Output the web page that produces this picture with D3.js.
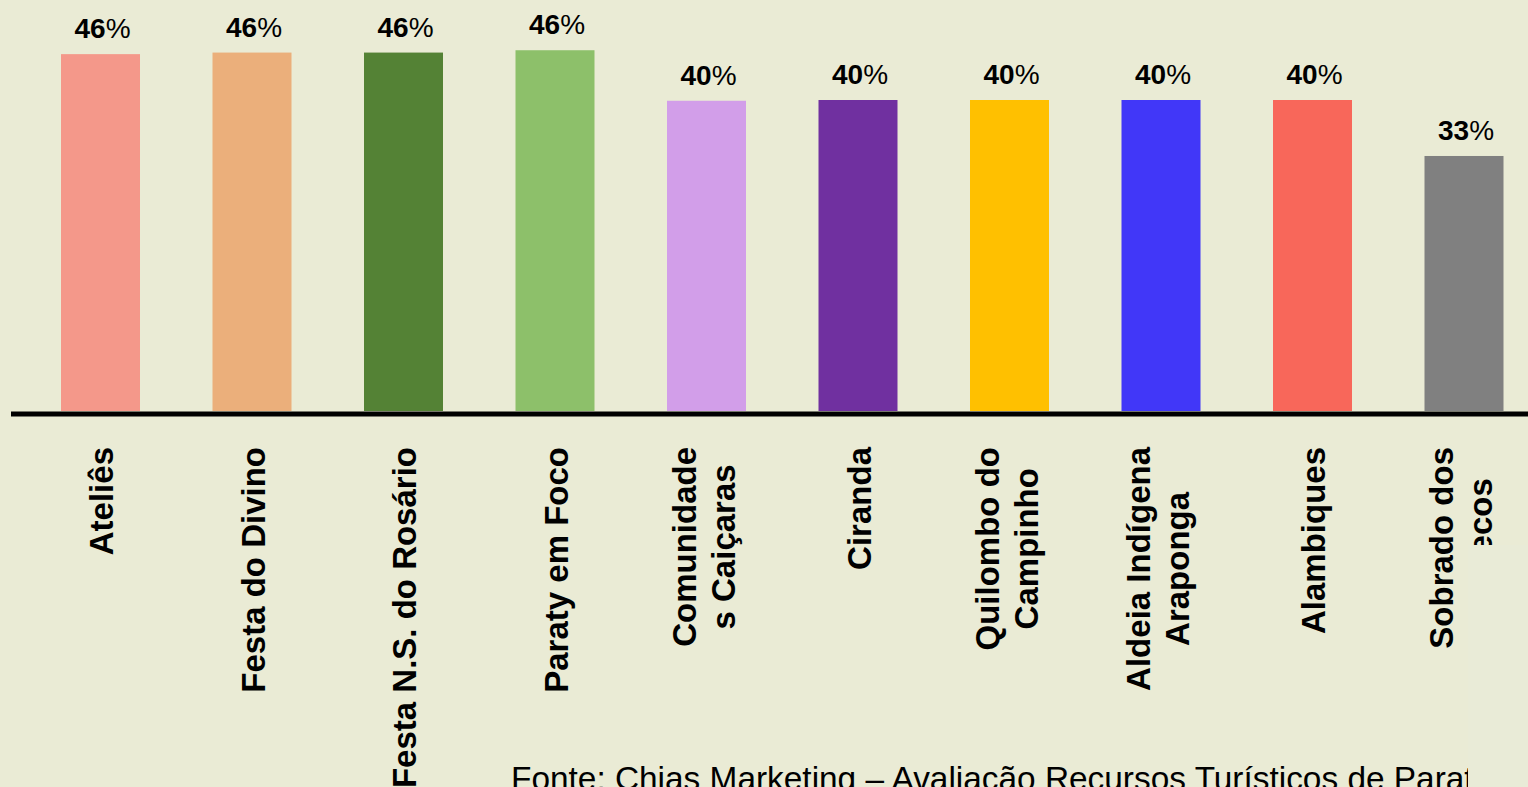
<!DOCTYPE html>
<meta charset="utf-8">
<script src="https://cdn.jsdelivr.net/npm/d3@7"></script>
<style>
  body { margin: 0; background: #EAEBD5; overflow: hidden; }
  svg { display: block; }
  text { font-family: "Liberation Sans", Arial, sans-serif; fill: #000; }
  .value { font-size: 28px; font-weight: bold; }
  .cat { font-size: 33px; font-weight: bold; }
  .source { font-size: 33.4px; }
</style>
<body>
<div id="chart"></div>
<script>

// data
var categories = ["Ateliês", "Festa do Divino", "Festa N.S. do Rosário", "Paraty em Foco",
  "Comunidades Caiçaras", "Ciranda", "Quilombo do Campinho", "Aldeia Indígena Araponga",
  "Alambiques", "Sobrado dos Bonecos"];
// how each label is broken in lines
var labelLines = [["Ateliês"], ["Festa do Divino"], ["Festa N.S. do Rosário"], ["Paraty em Foco"],
  ["Comunidade", "s Caiçaras"], ["Ciranda"], ["Quilombo do", "Campinho"],
  ["Aldeia Indígena", "Araponga"], ["Alambiques"], ["Sobrado dos", "Bonecos"]];
var values = [45.9, 46.1, 46.1, 46.4, 39.9, 40.0, 40.0, 40.0, 40.0, 32.8];
var colors = ["#F4988A", "#EBAF7B", "#548235", "#8DC06A", "#D29EE9",
  "#7030A0", "#FFC000", "#4137F8", "#F8675A", "#808080"];
var sourceText = "Fonte: Chias Marketing – Avaliação Recursos Turísticos de Paraty";

var width = 1528, height = 787;

var svg = d3.select("#chart")
  .append("svg")
    .attr("width", width)
    .attr("height", height);

svg.append("rect")
  .attr("width", width)
  .attr("height", height)
  .attr("fill", "#EAEBD5");

// centre of every bar
var x = d3.scalePoint()
  .domain(categories)
  .range([100.5, 1464]);
var barW = 79;

var y = d3.scaleLinear()
  .domain([0, 40])
  .range([411, 100]);

// bars
svg.selectAll("rect.bar")
  .data(categories)
  .enter()
  .append("rect")
    .attr("class", "bar")
    .attr("x", function(d) { return x(d) - barW / 2; })
    .attr("y", function(d, i) { return y(values[i]); })
    .attr("width", barW)
    .attr("height", function(d, i) { return y(0) - y(values[i]); })
    .attr("fill", function(d, i) { return colors[i]; });

// value labels: bold number, plain percent sign
var vals = svg.selectAll("text.value")
  .data(categories)
  .enter()
  .append("text")
    .attr("class", "value")
    .attr("x", function(d) { return x(d) + 2; })
    .attr("y", function(d, i) { return y(values[i]) - 16; })
    .attr("text-anchor", "middle");
vals.append("tspan").text(function(d, i) { return Math.round(values[i]); });
vals.append("tspan").attr("font-weight", "normal").text("%");

// baseline
svg.append("line")
  .attr("x1", 11)
  .attr("x2", width)
  .attr("y1", 414)
  .attr("y2", 414)
  .attr("stroke", "#000")
  .attr("stroke-width", 5);

// category labels, rotated, lines centred on each other
var lineGap = 39;
categories.forEach(function(c, i) {
  var lines = labelLines[i];
  var g = svg.append("g");
  var texts = lines.map(function(l, k) {
    return g.append("text")
      .attr("class", "cat")
      .attr("text-anchor", "middle")
      .attr("dy", "0.35em")
      .text(l);
  });
  var maxLen = d3.max(texts, function(t) { return t.node().getComputedTextLength(); });
  var cy = 447 + maxLen / 2;
  var shift = lines.length > 1 ? -3 : 1;
  texts.forEach(function(t, k) {
    var cx = x(c) + shift + (k - (lines.length - 1) / 2) * lineGap;
    t.attr("transform", "translate(" + cx + "," + cy + ") rotate(-90)");
  });
});

// source line
svg.append("text")
  .attr("class", "source")
  .attr("x", 511)
  .attr("y", 790)
  .text(sourceText);

// lighter patch at the lower right that hides the ends
svg.append("rect")
  .attr("x", 1468)
  .attr("y", 545)
  .attr("width", width - 1468)
  .attr("height", height - 545)
  .attr("fill", "#E9EBD7");

</script>
